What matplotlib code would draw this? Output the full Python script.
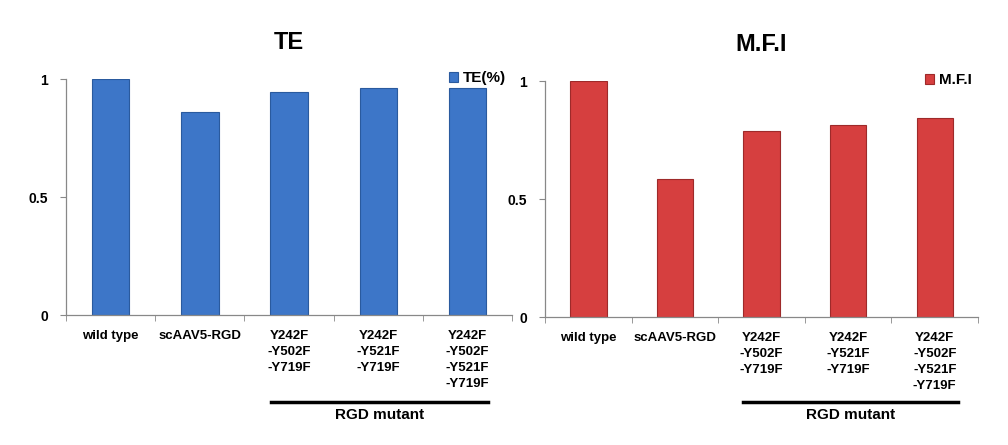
import numpy as np
import matplotlib.pyplot as plt
from matplotlib import transforms

plt.rcParams['font.family'] = ['Liberation Sans', 'DejaVu Sans']
plt.rcParams['font.weight'] = 'bold'

categories = ["wild type", "scAAV5-RGD",
              "Y242F\n-Y502F\n-Y719F",
              "Y242F\n-Y521F\n-Y719F",
              "Y242F\n-Y502F\n-Y521F\n-Y719F"]
te_values = [1.0, 0.86, 0.945, 0.962, 0.964]
mfi_values = [1.0, 0.587, 0.788, 0.814, 0.843]
yticks = [0, 0.5, 1]
yticklabels = ["0", "0.5", "1"]

fig = plt.figure(figsize=(10.08, 4.45), dpi=100)
ax1 = fig.add_axes([0.0655, 0.292, 0.4425, 0.530])
ax2 = fig.add_axes([0.5407, 0.2876, 0.4296, 0.530])


def draw_panel(ax, values, color, edge, title, legend_label, span):
    x = np.arange(len(categories))
    bars = ax.bar(x, values, width=0.42, color=color, edgecolor=edge,
                  linewidth=0.8, label=legend_label)
    ax.set_xlim(-0.5, len(categories) - 0.5)
    ax.set_ylim(0, 1)
    ax.set_yticks(yticks)
    ax.set_yticklabels(yticklabels, fontsize=10, fontweight='bold')
    ax.set_xticks(x)
    ax.set_xticklabels(categories, fontsize=9.5, fontweight='bold',
                       linespacing=1.45, va='top')
    ax.tick_params(axis='x', length=0, pad=11)
    ax.set_xticks(np.arange(len(categories) + 1) - 0.5, minor=True)
    ax.tick_params(axis='x', which='minor', length=4, color='#888888')
    ax.tick_params(axis='y', length=4, color='#888888', pad=9)
    for s in ['top', 'right']:
        ax.spines[s].set_visible(False)
    for s in ['left', 'bottom']:
        ax.spines[s].set_color('#888888')
        ax.spines[s].set_linewidth(0.9)
    ax.set_title(title, fontsize=17, fontweight='bold', pad=22)
    leg = ax.legend(handles=[bars], loc='upper right', frameon=False,
                    fontsize=11, handlelength=0.6, handleheight=0.6,
                    handletextpad=0.3, borderaxespad=0.0,
                    bbox_to_anchor=(1.0, 1.06))
    for t in leg.get_texts():
        t.set_fontweight('bold')
    # "RGD mutant" bracket below the last three groups
    trans = transforms.blended_transform_factory(ax.transData, fig.transFigure)
    ax.plot(span, [0.097, 0.097], color='black', lw=2.5, transform=trans,
            clip_on=False)
    ax.text(np.mean(span), 0.067, "RGD mutant", transform=trans,
            ha='center', va='center', fontsize=11, fontweight='bold')


draw_panel(ax1, te_values, '#3d76c8', '#2a5a9e', "TE", "TE(%)", [1.8, 4.23])
draw_panel(ax2, mfi_values, '#d63f3f', '#9e2a2a', "M.F.I", "M.F.I", [1.79, 4.27])

fig.savefig("out.png", dpi=100)
